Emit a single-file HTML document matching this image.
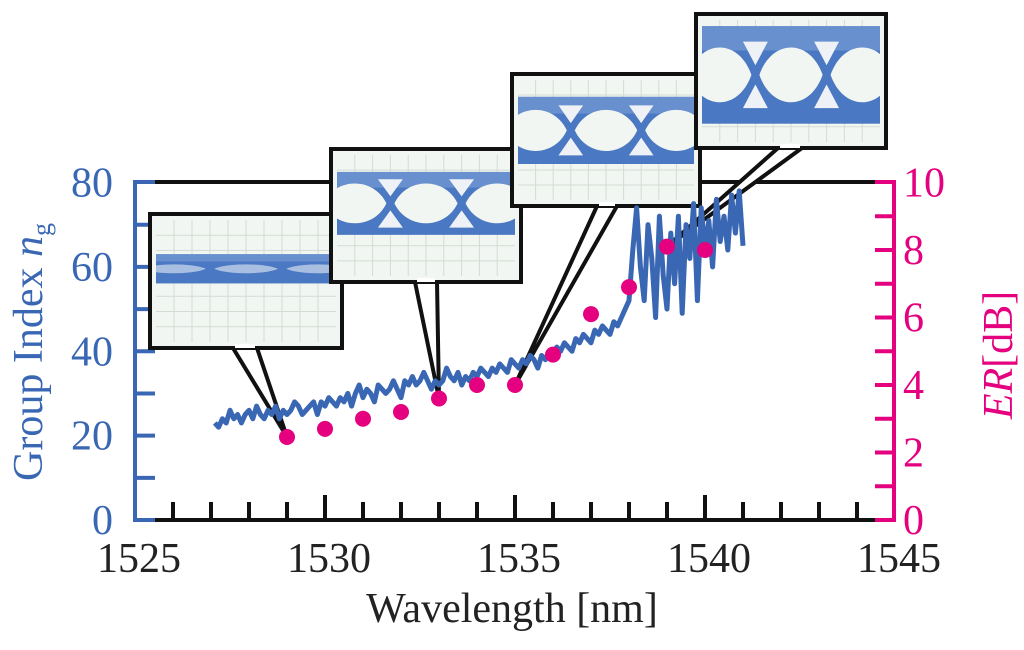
<!DOCTYPE html>
<html><head><meta charset="utf-8"><style>
body{margin:0;background:#fff;}
svg text{font-family:"Liberation Serif",serif;}
</style></head><body>
<svg id="c" width="1024" height="645" viewBox="0 0 1024 645" xmlns="http://www.w3.org/2000/svg">
<defs id="defs"></defs>
<g id="axes"></g>
<g id="series"></g>
<g id="callouts"></g>
</svg>
<script>
const wlTicks=[1525,1530,1535,1540,1545];
const ngTicks=[0,20,40,60,80];
const erTicks=[0,2,4,6,8,10];
const erWl=[1529,1530,1531,1532,1533,1534,1535,1536,1537,1538,1539,1540];
const erVal=[2.46,2.7,3.0,3.2,3.6,4.0,4.0,4.9,6.1,6.9,8.1,8.0];
const ngWl=[1527.1,1527.2,1527.3,1527.4,1527.5,1527.6,1527.7,1527.8,1527.9,1528.0,1528.1,1528.2,1528.3,1528.4,1528.5,1528.6,1528.7,1528.8,1528.9,1529.0,1529.1,1529.2,1529.3,1529.4,1529.5,1529.6,1529.7,1529.8,1529.9,1530.0,1530.1,1530.2,1530.3,1530.4,1530.5,1530.6,1530.7,1530.8,1530.9,1531.0,1531.1,1531.2,1531.3,1531.4,1531.5,1531.6,1531.7,1531.8,1531.9,1532.0,1532.1,1532.2,1532.3,1532.4,1532.5,1532.6,1532.7,1532.8,1532.9,1533.0,1533.1,1533.2,1533.3,1533.4,1533.5,1533.6,1533.7,1533.8,1533.9,1534.0,1534.1,1534.2,1534.3,1534.4,1534.5,1534.6,1534.7,1534.8,1534.9,1535.0,1535.1,1535.2,1535.3,1535.4,1535.5,1535.6,1535.7,1535.8,1535.9,1536.0,1536.1,1536.2,1536.3,1536.4,1536.5,1536.6,1536.7,1536.8,1536.9,1537.0,1537.1,1537.2,1537.3,1537.4,1537.5,1537.6,1537.7,1537.8,1537.9,1538.0,1538.1,1538.2,1538.3,1538.4,1538.5,1538.6,1538.7,1538.8,1538.9,1539.0,1539.1,1539.2,1539.3,1539.4,1539.5,1539.6,1539.7,1539.8,1539.9,1540.0,1540.1,1540.2,1540.3,1540.4,1540.5,1540.6,1540.7,1540.8,1540.9,1541.0];
const ngVal=[23,22,24,23,26,24,25,23,25,26,24,27,25,24,26,25,27,24,26,25,26,28,27,25,26,27,28,25,28,27,29,28,27,29,28,30,27,30,32,29,31,30,28,32,31,30,31,33,31,29,33,32,34,32,33,35,33,31,33,32,33,36,34,33,35,32,34,33,35,34,36,35,34,36,35,37,36,35,38,37,36,38,37,39,38,36,39,38,40,39,41,40,42,41,40,43,42,44,43,42,45,44,46,45,44,47,46,48,50,52,64,74,60,52,70,62,48,72,58,50,68,56,72,49,70,62,75,52,74,64,71,60,76,66,72,64,77,68,78,65];
const svgNS="http://www.w3.org/2000/svg";
const X0=135,XS=38.0,Y0=520,YS=337.5/80,YE=337.5/10;
const xs=w=>X0+(w-1525)*XS, yn=v=>Y0-v*YS, ye=v=>Y0-v*YE;
const BLUE="#3a67b3",PINK="#e4007f";
function mk(tag,attrs,parent,txt){const e=document.createElementNS(svgNS,tag);for(const k in attrs)e.setAttribute(k,attrs[k]);if(txt!==undefined)e.textContent=txt;parent.appendChild(e);return e;}
const ax=document.getElementById('axes'),se=document.getElementById('series'),co=document.getElementById('callouts'),defs=document.getElementById('defs');
let e;
e=mk('line',{x1:155,y1:520,x2:875,y2:520,stroke:'#111','stroke-width':4},ax);

e=mk('line',{x1:155,y1:182,x2:875,y2:182,stroke:'#111','stroke-width':4},ax);

e=mk('path',{d:'M155 182 H135 V520 H155',fill:'none',stroke:BLUE,'stroke-width':4},ax);

e=mk('path',{d:'M875 182 H894 V520 H875',fill:'none',stroke:PINK,'stroke-width':4},ax);

for(let w=1526;w<=1544;w++){const maj=(w%5===0);
 e=mk('line',{x1:xs(w),y1:520,x2:xs(w),y2:maj?495:502,stroke:'#111','stroke-width':4},ax);
 }
for(let v=10;v<80;v+=10){e=mk('line',{x1:135,y1:yn(v),x2:155,y2:yn(v),stroke:BLUE,'stroke-width':4},ax);
 }
for(let v=1;v<10;v++){e=mk('line',{x1:875,y1:ye(v),x2:894,y2:ye(v),stroke:PINK,'stroke-width':4},ax);
 }
wlTicks.forEach(w=>{e=mk('text',{x:xs(w)+4,y:572,'text-anchor':'middle','font-size':42,fill:'#222'},ax,String(w));
 });
ngTicks.forEach(v=>{e=mk('text',{x:113,y:yn(v)+14,'text-anchor':'end','font-size':42,fill:BLUE},ax,String(v));
 });
erTicks.forEach(v=>{e=mk('text',{x:903,y:ye(v)+14,'text-anchor':'start','font-size':42,fill:PINK},ax,String(v));
 });
e=mk('text',{x:512,y:622,'text-anchor':'middle','font-size':42,fill:'#222'},ax,'Wavelength [nm]');

e=mk('text',{transform:'translate(42,352) rotate(-90)','text-anchor':'middle','font-size':42,fill:BLUE},ax);

e.innerHTML='Group Index <tspan font-style="italic">n</tspan><tspan font-size="26" dy="8">g</tspan>';
e=mk('text',{transform:'translate(1012,355) rotate(-90)','text-anchor':'middle','font-size':42,fill:PINK},ax);

e.innerHTML='<tspan font-style="italic">ER</tspan>[dB]';
e=mk('polyline',{points:ngWl.map((w,i)=>xs(w)+','+yn(Math.min(ngVal[i],79))).join(' '),fill:'none',stroke:BLUE,'stroke-width':5,'stroke-linejoin':'round'},se);

const boxes=[{x:148,y:212,w:196,h:138,p1:233,p2:253,wi:0,cyf:0.40,bhf:0.24,ehf:0.3},{x:329,y:147,w:194,h:137,p1:415,p2:433,wi:4,cyf:0.40,bhf:0.52,ehf:0.62},{x:510,y:72,w:192,h:136,p1:597,p2:613,wi:6,cyf:0.42,bhf:0.56,ehf:0.6},{x:694,y:12,w:194,h:138,p1:778,p2:798,wi:10,cyf:0.45,bhf:0.8,ehf:0.55}];
boxes.forEach((b,k)=>{
 const g=mk('g',{},co);
 const tx=xs(erWl[b.wi]),ty=ye(erVal[b.wi]);
 mk('polygon',{points:`${b.p1},${b.y+b.h-2} ${b.p2+4},${b.y+b.h-2} ${tx},${ty}`,fill:'#fff',stroke:'#111','stroke-width':4,'stroke-linejoin':'miter'},g);
 mk('rect',{x:b.x+2,y:b.y+2,width:b.w-4,height:b.h-4,fill:'#f2f6f2',stroke:'#111','stroke-width':4},g);
 const ix=b.x+8,iy=b.y+8,iw=b.w-16,ih=b.h-16;
 const cp=mk('clipPath',{id:'cp'+k},defs);mk('rect',{x:ix,y:iy,width:iw,height:ih},cp);
 const gi=mk('g',{'clip-path':'url(#cp'+k+')'},g);
 for(let i=1;i<10;i++)mk('line',{x1:ix+iw*i/10,y1:iy,x2:ix+iw*i/10,y2:iy+ih,stroke:'#d3dbd3','stroke-width':1},gi);
 for(let i=1;i<8;i++)mk('line',{x1:ix,y1:iy+ih*i/8,x2:ix+iw,y2:iy+ih*i/8,stroke:'#d3dbd3','stroke-width':1},gi);
 const bh=ih*b.bhf,cy=iy+ih*b.cyf;
 mk('rect',{x:ix,y:cy-bh/2,width:iw,height:bh,fill:'#4a78c2'},gi);
 mk('rect',{x:ix,y:cy-bh/2,width:iw,height:bh*0.25,fill:'#7d9fd6',opacity:0.6},gi);
 const eh=bh*b.ehf;
 const cr=[-0.1,0.3,0.7,1.1];
 for(let j=0;j<3;j++){const x1=ix+iw*cr[j]+4,x2=ix+iw*cr[j+1]-4,xm=(x1+x2)/2;
  mk('path',{d:`M${x1},${cy} C${x1+ (x2-x1)*0.2},${cy-eh*0.68} ${x2-(x2-x1)*0.2},${cy-eh*0.68} ${x2},${cy} C${x2-(x2-x1)*0.2},${cy+eh*0.68} ${x1+(x2-x1)*0.2},${cy+eh*0.68} ${x1},${cy}Z`,fill:k===0?'#a9bfe2':'#f2f6f2'},gi);}
 if(k>0){[0.3,0.7].forEach(f=>{const xc=ix+iw*f,tw=iw*0.07;
  mk('polygon',{points:`${xc-tw},${cy-eh*0.62} ${xc+tw},${cy-eh*0.62} ${xc},${cy-eh*0.18}`,fill:'#eef2f6'},gi);
  mk('polygon',{points:`${xc-tw},${cy+eh*0.62} ${xc+tw},${cy+eh*0.62} ${xc},${cy+eh*0.18}`,fill:'#eef2f6'},gi);});}
 mk('rect',{x:b.x+2,y:b.y+2,width:b.w-4,height:b.h-4,fill:'none',stroke:'#111','stroke-width':4},g);
 mk('rect',{x:b.p1+2,y:b.y+b.h-6,width:b.p2-b.p1,height:4,fill:'#fff'},g);
});
erWl.forEach((w,i)=>{e=mk('circle',{cx:xs(w),cy:ye(erVal[i]),r:8,fill:PINK},se);
 });
document.getElementById('c').appendChild(se);
</script>
</body></html>
